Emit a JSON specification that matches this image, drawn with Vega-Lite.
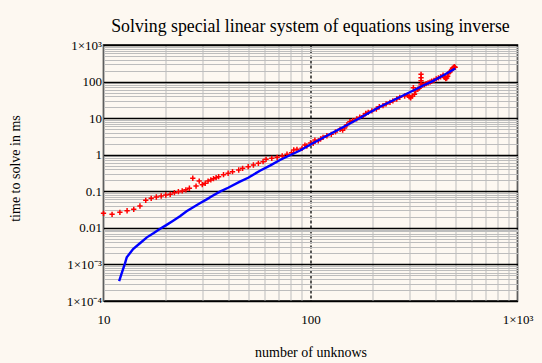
{
  "$schema": "https://vega.github.io/schema/vega-lite/v6.json",
  "width": 414,
  "height": 256,
  "autosize": "none",
  "padding": {"left": 103.5, "top": 45, "right": 24.5, "bottom": 62},
  "background": "#fdf8f1",
  "view": {"stroke": "#000000", "strokeWidth": 1.5},
  "title": {
    "text": "Solving special linear system of equations using inverse",
    "font": "Liberation Serif",
    "fontSize": 17.8,
    "fontWeight": "normal",
    "color": "#000000",
    "anchor": "middle",
    "frame": "group",
    "baseline": "alphabetic",
    "offset": 0,
    "dy": 11
  },
  "datasets": {
    "blue": [
      {"n": 11.9, "t": 0.00035}, {"n": 12.24, "t": 0.00057}, {"n": 12.7, "t": 0.00107}, {"n": 12.95, "t": 0.00156},
      {"n": 13.9, "t": 0.00264}, {"n": 15.0, "t": 0.0038}, {"n": 16.2, "t": 0.0055}, {"n": 17.5, "t": 0.0072},
      {"n": 18.7, "t": 0.0093}, {"n": 20.0, "t": 0.0117}, {"n": 21.7, "t": 0.0157}, {"n": 23.5, "t": 0.021},
      {"n": 25.2, "t": 0.0285}, {"n": 27.0, "t": 0.036}, {"n": 29.2, "t": 0.047}, {"n": 31.5, "t": 0.06},
      {"n": 33.5, "t": 0.074}, {"n": 36.5, "t": 0.098}, {"n": 40.0, "t": 0.125}, {"n": 45.6, "t": 0.183},
      {"n": 50.0, "t": 0.235}, {"n": 57.0, "t": 0.366}, {"n": 64.0, "t": 0.51}, {"n": 71.2, "t": 0.716},
      {"n": 80.0, "t": 0.98}, {"n": 89.0, "t": 1.3}, {"n": 100.0, "t": 1.9}, {"n": 120.0, "t": 3.3},
      {"n": 149.6, "t": 6.4}, {"n": 180.0, "t": 11.5}, {"n": 216.6, "t": 20.5}, {"n": 260.0, "t": 34},
      {"n": 314.0, "t": 57}, {"n": 350.0, "t": 78}, {"n": 385.0, "t": 100}, {"n": 430.0, "t": 140},
      {"n": 470.0, "t": 185}, {"n": 500.0, "t": 228}
    ],
    "red": [
      {"n": 10, "t": 0.025}, {"n": 11, "t": 0.0234}, {"n": 12, "t": 0.0266}, {"n": 13, "t": 0.0294},
      {"n": 14, "t": 0.0322}, {"n": 15, "t": 0.0396}, {"n": 16, "t": 0.0567}, {"n": 17, "t": 0.0643},
      {"n": 18, "t": 0.0698}, {"n": 19, "t": 0.0743}, {"n": 20, "t": 0.0791}, {"n": 21, "t": 0.0826},
      {"n": 22, "t": 0.0914}, {"n": 23, "t": 0.0975}, {"n": 24, "t": 0.102}, {"n": 25, "t": 0.11},
      {"n": 26, "t": 0.121}, {"n": 27, "t": 0.227}, {"n": 28, "t": 0.139}, {"n": 29, "t": 0.19},
      {"n": 30, "t": 0.152}, {"n": 31, "t": 0.165}, {"n": 32, "t": 0.19}, {"n": 33, "t": 0.205},
      {"n": 34, "t": 0.221}, {"n": 35, "t": 0.235}, {"n": 36, "t": 0.251}, {"n": 38, "t": 0.284},
      {"n": 40, "t": 0.311}, {"n": 42, "t": 0.343}, {"n": 45, "t": 0.382}, {"n": 47, "t": 0.425},
      {"n": 50, "t": 0.47}, {"n": 53, "t": 0.523}, {"n": 56, "t": 0.582}, {"n": 59, "t": 0.644},
      {"n": 61, "t": 0.748}, {"n": 65, "t": 0.798}, {"n": 69, "t": 0.849}, {"n": 73, "t": 0.922},
      {"n": 77, "t": 1.03}, {"n": 81, "t": 1.13}, {"n": 83, "t": 1.35}, {"n": 86, "t": 1.4},
      {"n": 91, "t": 1.5}, {"n": 94, "t": 1.84}, {"n": 96, "t": 1.73}, {"n": 100, "t": 2.1},
      {"n": 103, "t": 2.05}, {"n": 105, "t": 2.52}, {"n": 109, "t": 2.4}, {"n": 112, "t": 2.7},
      {"n": 115, "t": 2.99}, {"n": 120, "t": 3.3}, {"n": 126, "t": 3.61}, {"n": 132, "t": 4.2},
      {"n": 139, "t": 4.95}, {"n": 143, "t": 4.7}, {"n": 146, "t": 5.4}, {"n": 150, "t": 6.6},
      {"n": 155, "t": 8.0}, {"n": 160, "t": 8.6}, {"n": 167, "t": 9.5}, {"n": 173, "t": 10.6},
      {"n": 180, "t": 11.7}, {"n": 185, "t": 13.5}, {"n": 190, "t": 14.4}, {"n": 198, "t": 15.8},
      {"n": 208, "t": 17.8}, {"n": 215, "t": 20.5}, {"n": 224, "t": 21.9}, {"n": 232, "t": 24.5},
      {"n": 242, "t": 27.1}, {"n": 250, "t": 29.5}, {"n": 261, "t": 33.4}, {"n": 270, "t": 37},
      {"n": 285, "t": 40.3}, {"n": 295, "t": 42}, {"n": 300, "t": 38}, {"n": 305, "t": 36},
      {"n": 310, "t": 40}, {"n": 314, "t": 68}, {"n": 318, "t": 45}, {"n": 322, "t": 55},
      {"n": 330, "t": 62}, {"n": 335, "t": 66}, {"n": 342, "t": 158}, {"n": 342, "t": 128},
      {"n": 342, "t": 106}, {"n": 342, "t": 86}, {"n": 348, "t": 80}, {"n": 355, "t": 83},
      {"n": 362, "t": 88}, {"n": 370, "t": 92}, {"n": 378, "t": 97}, {"n": 385, "t": 102},
      {"n": 395, "t": 108}, {"n": 405, "t": 118}, {"n": 415, "t": 126}, {"n": 425, "t": 135},
      {"n": 437, "t": 150}, {"n": 445, "t": 130}, {"n": 450, "t": 120}, {"n": 455, "t": 125},
      {"n": 460, "t": 140}, {"n": 465, "t": 170}, {"n": 472, "t": 185}, {"n": 480, "t": 207},
      {"n": 485, "t": 230}, {"n": 490, "t": 240}, {"n": 495, "t": 255}, {"n": 500, "t": 245}
    ]
  },
  "encoding": {
    "x": {
      "field": "n",
      "type": "quantitative",
      "scale": {"type": "log", "domain": [10, 1000], "nice": false},
      "axis": {
        "values": [10, 20, 30, 40, 50, 60, 70, 80, 90, 100, 200, 300, 400, 500, 600, 700, 800, 900, 1000],
        "grid": true,
        "gridColor": {"condition": {"test": "datum.value == 100", "value": "#000000"}, "value": "#bdbdbd"},
        "gridDash": {"condition": {"test": "datum.value == 100", "value": [3, 2]}, "value": []},
        "gridWidth": {"condition": {"test": "datum.value == 100", "value": 1.3}, "value": 1},
        "ticks": false,
        "domain": false,
        "labelFlush": false,
        "labelOverlap": false,
        "labelExpr": "datum.value == 10 ? '10' : datum.value == 100 ? '100' : datum.value == 1000 ? '1×10³' : ''",
        "labelFont": "Liberation Serif",
        "labelFontSize": 13,
        "labelColor": "#000000",
        "labelPadding": 12,
        "title": "number of unknows",
        "titleFont": "Liberation Serif",
        "titleFontSize": 14,
        "titleFontWeight": "normal",
        "titleColor": "#000000",
        "titleBaseline": "middle",
        "titleY": 51
      }
    },
    "y": {
      "field": "t",
      "type": "quantitative",
      "scale": {"type": "log", "domain": [0.0001, 1000], "nice": false},
      "axis": {
        "values": [0.0001, 0.0002, 0.0003, 0.0004, 0.0005, 0.0006, 0.0007, 0.0008, 0.0009,
                   0.001, 0.002, 0.003, 0.004, 0.005, 0.006, 0.007, 0.008, 0.009,
                   0.01, 0.02, 0.03, 0.04, 0.05, 0.06, 0.07, 0.08, 0.09,
                   0.1, 0.2, 0.3, 0.4, 0.5, 0.6, 0.7, 0.8, 0.9,
                   1, 2, 3, 4, 5, 6, 7, 8, 9,
                   10, 20, 30, 40, 50, 60, 70, 80, 90,
                   100, 200, 300, 400, 500, 600, 700, 800, 900, 1000],
        "grid": true,
        "gridColor": {"condition": {"test": "abs(log(datum.value)/LN10 - round(log(datum.value)/LN10)) < 0.000001", "value": "#000000"}, "value": "#bdbdbd"},
        "gridWidth": {"condition": {"test": "abs(log(datum.value)/LN10 - round(log(datum.value)/LN10)) < 0.000001", "value": 1.3}, "value": 1},
        "ticks": false,
        "domain": false,
        "labelFlush": false,
        "labelOverlap": false,
        "labelExpr": "datum.value == 1000 ? '1×10³' : datum.value == 100 ? '100' : datum.value == 10 ? '10' : datum.value == 1 ? '1' : datum.value == 0.1 ? '0.1' : datum.value == 0.01 ? '0.01' : datum.value == 0.001 ? '1×10⁻³' : datum.value == 0.0001 ? '1×10⁻⁴' : ''",
        "labelFont": "Liberation Serif",
        "labelFontSize": 13,
        "labelColor": "#000000",
        "labelPadding": 2,
        "title": "time to solve in ms",
        "titleFont": "Liberation Serif",
        "titleFontSize": 14,
        "titleFontWeight": "normal",
        "titleColor": "#000000",
        "titleAngle": -90,
        "titleBaseline": "middle",
        "titleAlign": "center",
        "titleX": -88,
        "titleY": 123
      }
    }
  },
  "layer": [
    {
      "data": {"name": "red"},
      "mark": {
        "type": "point",
        "shape": "M-1,0H1M0,-1V1",
        "size": 28,
        "filled": false,
        "stroke": "#ff0000",
        "strokeWidth": 1.5,
        "opacity": 1
      }
    },
    {
      "data": {"name": "blue"},
      "mark": {"type": "line", "color": "#0000ff", "strokeWidth": 2.4}
    }
  ]
}
